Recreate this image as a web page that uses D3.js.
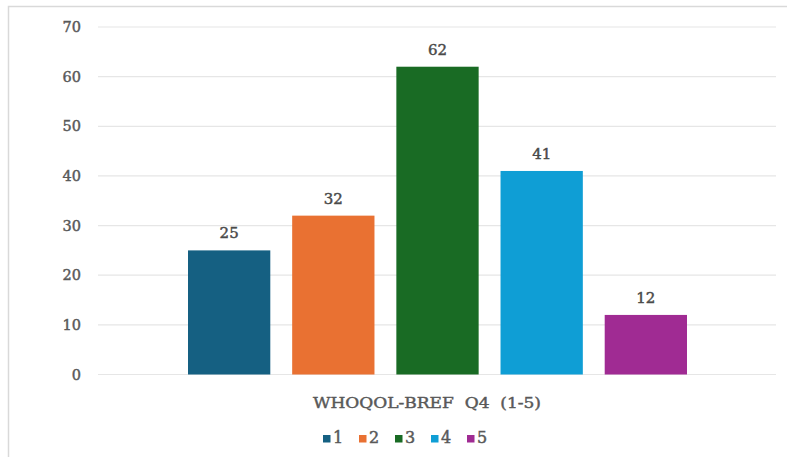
<!DOCTYPE html>
<html><head><meta charset="utf-8">
<script src="https://cdn.jsdelivr.net/npm/d3@7"></script>
<style>body{margin:0;background:#fff}svg{display:block}</style>
</head><body>
<script>
const categories = ["1","2","3","4","5"];
const values = [25,32,62,41,12];
const colors = ["#156082","#E97132","#196B24","#0F9ED5","#A02B93"];
const yTicks = [0,10,20,30,40,50,60,70];
const axisTitle = "WHOQOL-BREF\u00a0 Q4\u00a0 (1-5)";

const W=787,H=457;
const svg=d3.select("body").append("svg").attr("width",W).attr("height",H);
const font="'DejaVu Serif', serif";
const textColor="#595959";
function styleText(sel,size,color){
  sel.attr("font-family",font).attr("font-size",size).attr("fill",color)
     .attr("stroke",color).attr("stroke-width",0.45);
}
// frame
svg.append("rect").attr("x",8.5).attr("y",6.5).attr("width",W).attr("height",H).attr("fill","none").attr("stroke","#d9d9d9").attr("stroke-width",1.5);

const pLeft=98,pRight=776,pTop=27,pBottom=374.5;
const y=d3.scaleLinear().domain([0,70]).range([pBottom,pTop]);
const x=d3.scaleBand().domain(categories).range([188,687]).paddingInner(0.21);

const grid=svg.append("g");
grid.selectAll("line").data(yTicks).join("line")
  .attr("x1",pLeft).attr("x2",pRight).attr("y1",d=>y(d)).attr("y2",d=>y(d))
  .attr("stroke","#e6e6e6").attr("stroke-width",1.2);

const yAxis=svg.append("g").attr("transform",`translate(${pLeft},0)`)
  .call(d3.axisLeft(y).tickValues(yTicks).tickSize(0).tickPadding(17));
yAxis.select(".domain").remove();
styleText(yAxis.selectAll("text"),14.5,textColor);

svg.append("g").selectAll("rect").data(values).join("rect")
  .attr("x",(d,i)=>x(categories[i])).attr("width",x.bandwidth())
  .attr("y",d=>y(d)).attr("height",d=>y(0)-y(d))
  .attr("fill",(d,i)=>colors[i]);

styleText(svg.append("g").selectAll("text").data(values).join("text")
  .attr("x",(d,i)=>x(categories[i])+x.bandwidth()/2).attr("y",d=>y(d)-12)
  .attr("text-anchor","middle").text(d=>d),15,"#4a4a4a");

styleText(svg.append("text").attr("x",427).attr("y",408).attr("text-anchor","middle")
  .attr("textLength",228).attr("lengthAdjust","spacingAndGlyphs")
  .text(axisTitle),15.5,textColor);

// legend
const leg=svg.append("g");
const itemW=36, lx0=323;
categories.forEach((c,i)=>{
  const g=leg.append("g").attr("transform",`translate(${lx0+i*itemW},443)`);
  g.append("rect").attr("x",0).attr("y",-8).attr("width",7.5).attr("height",7.5).attr("fill",colors[i]);
  styleText(g.append("text").attr("x",10).attr("y",0).text(c),16,textColor);
});
</script>
</body></html>
